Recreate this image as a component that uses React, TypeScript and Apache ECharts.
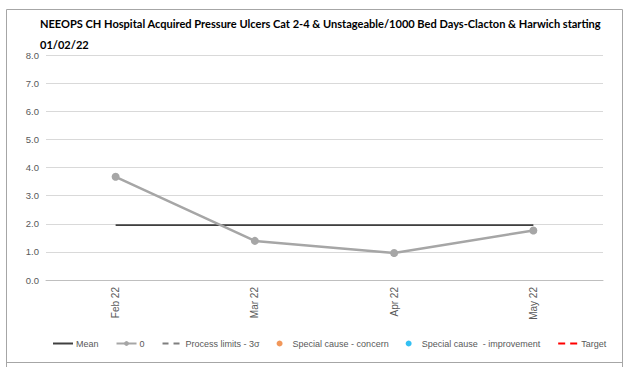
import React, { useEffect, useRef } from "react";
import * as echarts from "echarts";

// Monthly rate of hospital-acquired pressure ulcers per 1000 bed days
const months = ["Feb 22", "Mar 22", "Apr 22", "May 22"];
const rateValues = [3.67, 1.39, 0.96, 1.76];
const meanValues = [1.95, 1.95, 1.95, 1.95];
const processLimitValues: (number | null)[] = [];
const concernPoints: (number | null)[] = [];
const improvementPoints: (number | null)[] = [];
const targetValues: (number | null)[] = [];
const yTicks = { min: 0, max: 8, interval: 1 };

const titleLine1 =
  "NEEOPS CH Hospital Acquired Pressure Ulcers Cat 2-4 & Unstageable/1000 Bed Days-Clacton & Harwich starting";
const titleLine2 = "01/02/22";

const sans = "'Liberation Sans', Arial, sans-serif";
const titleFont = "bold 11.5px Lato, 'Liberation Sans', sans-serif";

// Width the first title line should occupy, so it is compressed horizontally to fit
const titleWidth = 562;

function measure(text: string, font: string): number {
  const ctx = document.createElement("canvas").getContext("2d");
  if (!ctx) return titleWidth;
  ctx.font = font;
  return ctx.measureText(text).width;
}

export default function App() {
  const ref = useRef<HTMLDivElement>(null);

  useEffect(() => {
    document.body.style.margin = "0";
    if (!ref.current) return;
    const chart = echarts.init(ref.current, undefined, { renderer: "svg" });
    const frame = "#a6a6a6";
    const sx = Math.min(1, titleWidth / measure(titleLine1, titleFont));
    const hidden = { color: "rgba(0,0,0,0)", borderWidth: 0 };
    chart.setOption({
      animation: false,
      backgroundColor: "#ffffff",
      graphic: [
        { type: "line", shape: { x1: 6.5, y1: 9.5, x2: 622.5, y2: 9.5 }, style: { stroke: frame, lineWidth: 1 } },
        { type: "line", shape: { x1: 6.5, y1: 9.5, x2: 6.5, y2: 367 }, style: { stroke: frame, lineWidth: 1 } },
        { type: "line", shape: { x1: 622.5, y1: 9.5, x2: 622.5, y2: 367 }, style: { stroke: frame, lineWidth: 1 } },
        { type: "line", shape: { x1: 6.5, y1: 362.5, x2: 622.5, y2: 362.5 }, style: { stroke: frame, lineWidth: 1 } },
        {
          type: "text",
          x: 40,
          y: 23,
          scaleX: sx,
          style: { text: titleLine1, font: titleFont, fill: "#000000", verticalAlign: "middle" },
        },
        {
          type: "text",
          x: 40,
          y: 44,
          scaleX: sx,
          style: { text: titleLine2, font: titleFont, fill: "#000000", verticalAlign: "middle" },
        },
      ],
      legend: {
        left: 47,
        top: 334,
        itemWidth: 20,
        itemHeight: 6,
        itemGap: 17,
        textStyle: { fontFamily: sans, fontSize: 9, color: "#595959", padding: [0, 0, 0, -2] },
        data: [
          { name: "Mean", itemStyle: hidden },
          "0",
          { name: "Process limits - 3σ", itemStyle: hidden },
          { name: "Special cause - concern", icon: "circle" },
          { name: "Special cause  - improvement", icon: "circle" },
          { name: "Target", itemStyle: hidden },
        ],
      },
      grid: { left: 46, right: 21, top: 55, bottom: 87 },
      xAxis: {
        type: "category",
        data: months,
        boundaryGap: true,
        axisLine: { lineStyle: { color: "#bfbfbf", width: 1 } },
        axisTick: { show: false },
        axisLabel: {
          rotate: 90,
          margin: 7,
          fontFamily: sans,
          fontSize: 10,
          color: "#595959",
        },
      },
      yAxis: {
        type: "value",
        min: yTicks.min,
        max: yTicks.max,
        interval: yTicks.interval,
        axisLine: { show: false },
        axisTick: { show: false },
        splitLine: { lineStyle: { color: "#d9d9d9", width: 1 } },
        axisLabel: {
          margin: 7,
          fontFamily: sans,
          fontSize: 9.5,
          color: "#595959",
          formatter: (v: number) => v.toFixed(1),
        },
      },
      series: [
        {
          name: "Mean",
          type: "line",
          data: meanValues,
          symbol: "none",
          lineStyle: { color: "#404040", width: 1.8 },
          itemStyle: { color: "#404040" },
          z: 2,
        },
        {
          name: "0",
          type: "line",
          data: rateValues,
          symbol: "circle",
          symbolSize: 8,
          lineStyle: { color: "#a6a6a6", width: 2.5 },
          itemStyle: { color: "#a6a6a6" },
          z: 3,
        },
        {
          name: "Process limits - 3σ",
          type: "line",
          data: processLimitValues,
          symbol: "none",
          lineStyle: { color: "#7f7f7f", width: 2.5, type: [6, 5] },
          itemStyle: { color: "#7f7f7f" },
        },
        {
          name: "Special cause - concern",
          type: "scatter",
          data: concernPoints,
          itemStyle: { color: "#ed7d31" },
        },
        {
          name: "Special cause  - improvement",
          type: "scatter",
          data: improvementPoints,
          itemStyle: { color: "#00b0f0" },
        },
        {
          name: "Target",
          type: "line",
          data: targetValues,
          symbol: "none",
          lineStyle: { color: "#ff0000", width: 2.5, type: [7, 5] },
          itemStyle: { color: "#ff0000" },
        },
      ],
    });
    return () => chart.dispose();
  }, []);

  return <div ref={ref} style={{ width: 624, height: 367 }} />;
}
